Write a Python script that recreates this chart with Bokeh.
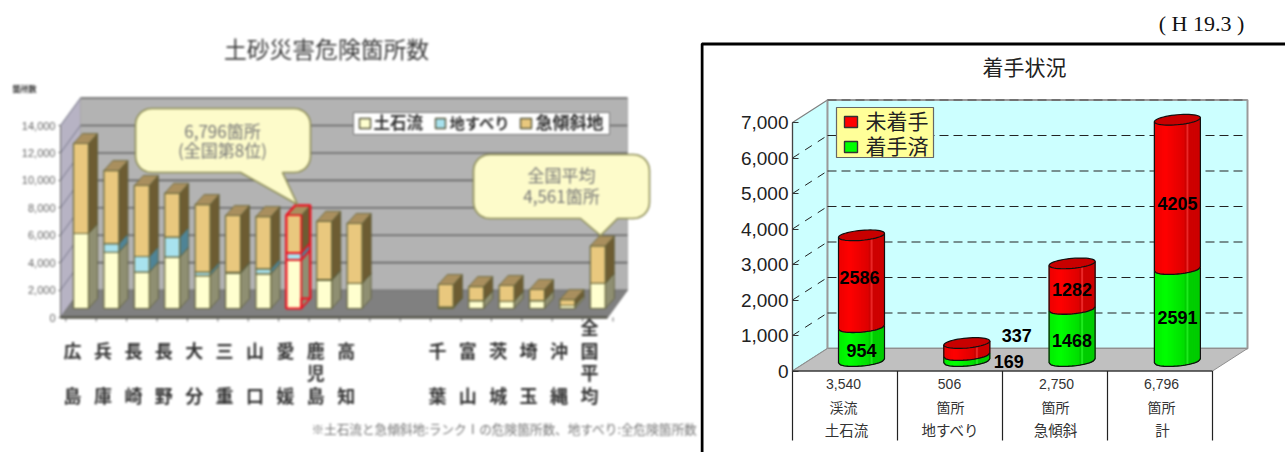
import math
from bokeh.core.properties import value
from bokeh.embed import file_html
from bokeh.layouts import row
from bokeh.models import FixedTicker, LinearAxis, NumeralTickFormatter, Range1d
from bokeh.plotting import figure
from bokeh.resources import INLINE

CJK = "Noto Sans CJK JP"

# --- 都道府県別 危険箇所数 ---
prefectures = ["広島", "兵庫", "長崎", "長野", "大分", "三重", "山口", "愛媛", "鹿児島", "高知",
               "千葉", "富山", "茨城", "埼玉", "沖縄", "全国平均"]
slots = [0, 1, 2, 3, 4, 5, 6, 7, 8, 9, 12, 13, 14, 15, 16, 17]
debris_flow = [5470, 4100, 2650, 3740, 2400, 2570, 2530, 3540, 2040, 1840, 100, 580, 530, 580, 220, 1840]
landslide = [0, 630, 1140, 1460, 250, 70, 360, 506, 60, 0, 0, 0, 0, 0, 0, 0]
steep_slope = [6560, 5330, 5180, 3200, 4930, 4140, 3810, 2750, 4260, 4360, 1650, 1020, 1150, 805, 430, 2721]
left_ticks = [0, 2000, 4000, 6000, 8000, 10000, 12000, 14000]
left_series = ["土石流", "地すべり", "急傾斜地"]

# --- 着手状況 ---
works = ["土石流", "地すべり", "急傾斜", "計"]
works_sub = ["渓流", "箇所", "箇所", "箇所"]
works_total = ["3,540", "506", "2,750", "6,796"]
started = [954, 169, 1468, 2591]
not_started = [2586, 337, 1282, 4205]
right_ticks = [0, 1000, 2000, 3000, 4000, 5000, 6000, 7000]
right_series = ["未着手", "着手済"]

H = 452

# ---------------------------------------------------------------- left chart
LW = 700
L_X0, L_DX = 80.5, 30.4
L_Y0, L_K = 317.0, 14000 / 192.0


def lx(px):
    return (px - L_X0) / L_DX


def ly(py):
    return (L_Y0 - py) * L_K


left = figure(width=LW, height=H, output_backend="svg", toolbar_location=None,
              x_axis_type=None, y_axis_type=None,
              x_range=Range1d(lx(0), lx(LW)), y_range=Range1d(ly(H), ly(0)),
              min_border=0, outline_line_color=None, background_fill_color="white")
left.grid.visible = False

wall_dx, wall_dv = 20 / L_DX, 2000.0
front_l, front_r = lx(60), lx(607)

# walls and floor
left.patch([front_l, front_l + wall_dx, front_l + wall_dx, front_l],
           [0, wall_dv, 14000 + wall_dv, 14000], fill_color="#b7b3c4", line_color="#a0a0a8")
left.patch([front_l + wall_dx, front_r + wall_dx, front_r + wall_dx, front_l + wall_dx],
           [wall_dv, wall_dv, 14000 + wall_dv, 14000 + wall_dv], fill_color="#b3b3b3", line_color="#a8a8a8")
left.patch([front_l, front_r, front_r + wall_dx, front_l + wall_dx],
           [0, 0, wall_dv, wall_dv], fill_color="#808080", line_color="#707070")
left.line([front_l, front_r], [0, 0], line_color="#55554a", line_width=2.5)

# gridlines on back wall and side wall
for t in left_ticks[1:]:
    left.line([front_l + wall_dx, front_r + wall_dx], [t + wall_dv, t + wall_dv], line_color="#666666", line_width=1.6)
    left.line([front_l, front_l + wall_dx], [t, t + wall_dv], line_color="#77778a", line_width=1)
left.segment([s - 0.5 for s in range(19)], [0] * 19, [s - 0.5 for s in range(19)], [-290] * 19,
             line_color="#666666", line_width=1)

# 3D stacked bars
bar_half = 7.5 / L_DX
bar_dx, bar_dv, bar_base = 9 / L_DX, 10 * L_K, 9 * L_K
colors = [("#ffffcf", "#8f8f72"), ("#a8e2ee", "#4f8496"), ("#e9c87e", "#6d5c32")]
stacks = [debris_flow, landslide, steep_slope]
bottoms = [0] * len(slots)
for vals, (front_c, side_c) in zip(stacks, colors):
    tops = [b + v for b, v in zip(bottoms, vals)]
    ls = [s - bar_half for s in slots]
    rs = [s + bar_half for s in slots]
    left.patches([[r, r + bar_dx, r + bar_dx, r] for r in rs],
                 [[b + bar_base, b + bar_base + bar_dv, t + bar_base + bar_dv, t + bar_base]
                  for b, t in zip(bottoms, tops)],
                 fill_color=side_c, line_color="#5c5c38", line_width=0.8)
    left.quad(left=ls, right=rs, bottom=[b + bar_base for b in bottoms], top=[t + bar_base for t in tops],
              fill_color=front_c, line_color="#66663c", line_width=1.2)
    bottoms = tops

totals = bottoms
left.patches([[s - bar_half, s + bar_half, s + bar_half + bar_dx, s - bar_half + bar_dx] for s in slots],
             [[t + bar_base, t + bar_base, t + bar_base + bar_dv, t + bar_base + bar_dv] for t in totals],
             fill_color="#a98f5e", line_color="#66663c", line_width=0.8)

# highlighted prefecture
hi = prefectures.index("愛媛")
hs, ht = slots[hi], totals[hi]
hl, hr = hs - bar_half, hs + bar_half
left.patch([hl, hr, hr, hr + bar_dx, hr + bar_dx, hl + bar_dx, hl],
           [bar_base, bar_base, bar_base + bar_dv, bar_base + bar_dv, ht + bar_base + bar_dv, ht + bar_base + bar_dv, ht + bar_base],
           fill_color=None, line_color="#f01020", line_width=2.2)
left.line([hl, hr, hr, hr + bar_dx], [ht + bar_base, ht + bar_base, bar_base, bar_base + bar_dv],
          line_color="#f01020", line_width=1.6)
for lv in (debris_flow[hi], debris_flow[hi] + landslide[hi]):
    left.line([hl, hr, hr + bar_dx], [lv + bar_base, lv + bar_base, lv + bar_base + bar_dv],
              line_color="#f01020", line_width=1.8)

left_axis = LinearAxis(fixed_location=front_l, ticker=FixedTicker(ticks=left_ticks), bounds=(0, 14000),
                       formatter=NumeralTickFormatter(format="0,0"),
                       major_tick_in=0, major_tick_out=2, minor_tick_line_color=None,
                       major_label_standoff=3, major_label_text_font="Liberation Sans",
                       major_label_text_font_size="11px", major_label_text_color="#666666",
                       axis_line_color="#666666", major_tick_line_color="#666666")
left.add_layout(left_axis, "left")


def balloon(x0, y0, x1, y1, tail_a, tail_b, tip, r=16):
    """Rounded rectangle with a pointed tail on its lower edge, in page pixels."""
    pts = []
    for cx, cy, a0 in ((x1 - r, y0 + r, -90), (x1 - r, y1 - r, 0), (x0 + r, y1 - r, 90), (x0 + r, y0 + r, 180)):
        for i in range(7):
            a = math.radians(a0 + i * 15)
            pts.append((cx + r * math.cos(a), cy + r * math.sin(a)))
        if a0 == 0:
            pts.extend([(tail_b, y1), tip, (tail_a, y1)])
    return [lx(p[0]) for p in pts], [ly(p[1]) for p in pts]


for spec in ((135, 108, 310, 172, 240, 282, (297, 204)), (473, 154, 649, 218, 580, 617, (600, 235))):
    bx, by = balloon(*spec)
    left.patch(bx, by, fill_color="#fdfbca", line_color="#8f8f58", line_width=1.6)


def ltext(xs, ys, labels, size, color="#444444", align="center", style="normal", font=CJK):
    left.text([lx(x) for x in xs], [ly(y) for y in ys], text=labels, text_font=value(font),
              text_font_size=size, text_color=color, text_align=align, text_baseline="middle",
              text_font_style=style)


ltext([326], [48], ["土砂災害危険箇所数"], "22.8px", "#3c3c3c")
ltext([12], [88], ["箇所数"], "8px", "#333333", "left", "bold")
ltext([222, 222], [130, 149], ["6,796箇所", "(全国第8位)"], "17px", "#777777")
ltext([561, 561], [174, 195], ["全国平均", "4,561箇所"], "17px", "#777777")
ltext([504], [428], ["※土石流と急傾斜地:ランクⅠの危険箇所数、地すべり:全危険箇所数"], "12.65px", "#777777")

# legend of the left chart
left.quad(left=[lx(353)], right=[lx(609)], top=[ly(112)], bottom=[ly(134)], fill_color="white",
          line_color="#777777", line_width=1)
for (a, b, c), tx, name, size in zip(((359, 370, "#ffffcf"), (435, 445, "#a8e2ee"), (520, 531, "#e9c87e")),
                                     (373, 449, 535), left_series, ("16.5px", "15.3px", "17px")):
    left.quad(left=[lx(a)], right=[lx(b)], top=[ly(118)], bottom=[ly(128)], fill_color=c,
              line_color="#55553a", line_width=1.4)
    ltext([tx], [121], [name], size, "#333333", "left", "bold")

# vertical prefecture labels, first and last characters on fixed rows
row_y = [326, 349, 371.5, 394]
cx, cy, ct = [], [], []
for s, name in zip(slots, prefectures):
    rows = {2: [1, 3], 3: [1, 2, 3], 4: [0, 1, 2, 3]}[len(name)]
    for ch, r in zip(name, rows):
        cx.append(s - bar_half - 0.03)
        cy.append(ly(row_y[r]))
        ct.append(ch)
left.text(cx, cy, text=ct, text_font=value(CJK), text_font_size="18px", text_color="#333333",
          text_align="center", text_baseline="middle", text_font_style="bold")

left.styles = {"filter": "blur(0.8px)"}
left.stylesheets = [":host { filter: blur(0.8px); }"]

# --------------------------------------------------------------- right chart
RW = 585
R_X0, R_DX = 861.0, 105.3
R_Y0, R_K = 370.5, 7000 / 248.5


def rx(px):
    return (px - R_X0) / R_DX


def ry(py):
    return (R_Y0 - py) * R_K


right = figure(width=RW, height=H, output_backend="svg", toolbar_location=None,
               x_axis_type=None, y_axis_type=None,
               x_range=Range1d(rx(700), rx(1285)), y_range=Range1d(ry(H), ry(0)),
               min_border=0, outline_line_color=None, background_fill_color="white")
right.grid.visible = False

r_left, r_right = rx(792), rx(1212)
r_dx, r_dv = 35 / R_DX, 22.5 * R_K

# outer frame of the panel
right.line([rx(701.5), rx(701.5), rx(1285)], [ry(452), ry(43.5), ry(43.5)], line_color="black", line_width=3)

# walls and floor
right.patch([r_left, r_left + r_dx, r_left + r_dx, r_left], [0, r_dv, 7000 + r_dv, 7000],
            fill_color="#ccffff", line_color="#808080", line_width=1.2)
right.patch([r_left + r_dx, r_right + r_dx, r_right + r_dx, r_left + r_dx],
            [r_dv, r_dv, 7000 + r_dv, 7000 + r_dv], fill_color="#ccffff", line_color="#9a9a9a", line_width=2)
right.patch([r_left, r_right, r_right + r_dx, r_left + r_dx], [0, 0, r_dv, r_dv],
            fill_color="#c0c0c0", line_color="#909090", line_width=1)
for t in right_ticks[1:-1]:
    right.line([r_left + r_dx, r_right + r_dx], [t + r_dv, t + r_dv], line_color="#222222", line_width=1.2,
               line_dash="9 5")
    right.line([r_left, r_left + r_dx], [t, t + r_dv], line_color="#222222", line_width=1, line_dash="8 7")
right.line([r_left + r_dx, r_right + r_dx], [7000 + r_dv] * 2, line_color="#666666", line_width=1.6, line_dash="9 5")

# cylinders
HALF_W, ELL_H, ELL_TILT = 23.0, 5.0, 2.0
base_v = 10 * R_K
STRIPS = 24


def arc_offset(u, lower=True):
    """Vertical pixel offset of a tilted ellipse at u in [-1, 1]."""
    s = math.sqrt(max(0.0, 1 - u * u))
    return (ELL_H * s if lower else -ELL_H * s) - ELL_TILT * u


def shade(frac, hue):
    streak = 0.72 < frac < 0.76
    if frac < 0.25:
        lev = 235 + 20 * frac / 0.25
    elif frac < 0.68:
        lev = 255 - 35 * (frac - 0.25) / 0.43
    elif streak:
        lev = 235
    else:
        lev = 205
    lev = int(lev)
    if hue == "red":
        tint = 40 if streak else 0
        return f"#{lev:02x}{tint:02x}{tint:02x}"
    tint = 30 if streak else 0
    return f"#{tint:02x}{lev:02x}{tint:02x}"


def cylinder(i, v0, v1, hue):
    """Body strips and outlines of one cylinder segment between two values."""
    us = [-1 + 2 * k / STRIPS for k in range(STRIPS + 1)]
    xs = [i + u * HALF_W / R_DX for u in us]
    lo = [v0 + base_v - arc_offset(u) * R_K for u in us]
    up = [v1 + base_v - arc_offset(u) * R_K for u in us]
    return xs, lo, up


for i in range(len(works)):
    for v0, v1, hue in ((0, started[i], "green"), (started[i], started[i] + not_started[i], "red")):
        xs, lo, up = cylinder(i, v0, v1, hue)
        # a solid body underneath keeps the seams between shaded bands from showing
        right.patch(xs + xs[::-1], lo + up[::-1], fill_color="#f00000" if hue == "red" else "#00f000", line_color=None)
        for k in range(STRIPS):
            c = shade((k + 0.5) / STRIPS, hue)
            right.patch([xs[k], xs[k + 1], xs[k + 1], xs[k]], [lo[k], lo[k + 1], up[k + 1], up[k]],
                        fill_color=c, line_color=c, line_width=0.9)
        right.line([xs[0], xs[0]], [lo[0], up[0]], line_color="#111111", line_width=1.2)
        right.line([xs[-1], xs[-1]], [lo[-1], up[-1]], line_color="#111111", line_width=1.2)
        right.line(xs, lo, line_color="#111111", line_width=1.3)
    total = started[i] + not_started[i]
    us = [math.cos(2 * math.pi * k / 48) for k in range(49)]
    signs = [1 if k < 24 else -1 for k in range(49)]
    cap_x = [i + u * HALF_W / R_DX for u in us]
    cap_y = [total + base_v - arc_offset(u, lower=(s < 0)) * R_K for u, s in zip(us, signs)]
    right.patch(cap_x, cap_y, fill_color="#c80000", line_color="#111111", line_width=1.2)

right_axis = LinearAxis(fixed_location=r_left, ticker=FixedTicker(ticks=right_ticks), bounds=(0, 7000),
                        formatter=NumeralTickFormatter(format="0,0"),
                        major_tick_in=6, major_tick_out=0, minor_tick_line_color=None,
                        major_label_standoff=4, major_label_text_font="Liberation Sans",
                        major_label_text_font_size="19px", major_label_text_color="#222222",
                        axis_line_color="#444444", major_tick_line_color="#333333", axis_line_width=1.2)
right.add_layout(right_axis, "left")


def rtext(xs, ys, labels, size, color="#222222", font=CJK, style="normal", align="center"):
    right.text([rx(x) for x in xs], [ry(y) for y in ys], text=labels, text_font=value(font),
               text_font_size=size, text_color=color, text_align=align, text_baseline="middle",
               text_font_style=style)


# value labels sit on their segments, nudged clear of the cylinder edges
nudge_x = [0, -2, 5, -8, 0, 0, 0, 0]
nudge_y = [6, -4, 3, -14, 6, 3, 2, 9]
seg_x, seg_v, seg_t = [], [], []
for i in range(len(works)):
    out = i == 1
    seg_x += [i + (0.35 if out else 0.0), i + (0.55 if out else 0.0)]
    seg_v += [started[i] / 2 + base_v, started[i] + not_started[i] / 2 + base_v]
    seg_t += [str(started[i]), str(not_started[i])]
right.text(seg_x, seg_v, text=seg_t, x_offset=nudge_x, y_offset=nudge_y, text_font=value("Liberation Sans"),
           text_font_size="18px", text_font_style="bold", text_color="black", text_align="center",
           text_baseline="middle")

# table under the chart
right.line([r_left, r_right], [0, 0], line_color="#111111", line_width=1.2)
for k in range(len(works) + 1):
    xk = r_left + k * (r_right - r_left) / len(works)
    right.line([xk, xk], [0, ry(440)], line_color="#222222", line_width=1.2)
rtext([843, 949, 1056, 1161], [383] * 4, works_total, "14px", "#333333", "Liberation Sans")
rtext([843, 950, 1055, 1161], [406] * 4, works_sub, "14px", "#333333")
rtext([846, 950, 1055, 1162], [429] * 4, works, "14.5px", "#333333")

rtext([1024], [65], ["着手状況"], "21px", "#222222")
rtext([1201], [22.5], ["( H 19.3 )"], "22px", "#111111", "Liberation Serif")

# legend of the right chart
right.quad(left=[rx(836)], right=[rx(933)], top=[ry(107)], bottom=[ry(157)], fill_color="#ffff99",
           line_color="#666666", line_width=1.2)
for sy0, c, name in zip((121.5, 146.5), ("#ff0000", "#00ff00"), right_series):
    right.quad(left=[rx(844)], right=[rx(857)], top=[ry(sy0 - 5.5)], bottom=[ry(sy0 + 5.5)], fill_color=c,
               line_color="#333333", line_width=1.4)
    rtext([865], [sy0 - 2], [name], "21px", "#222222", align="left")

page = row(left, right, spacing=0)
open("out.html", "w").write(file_html(page, INLINE))
